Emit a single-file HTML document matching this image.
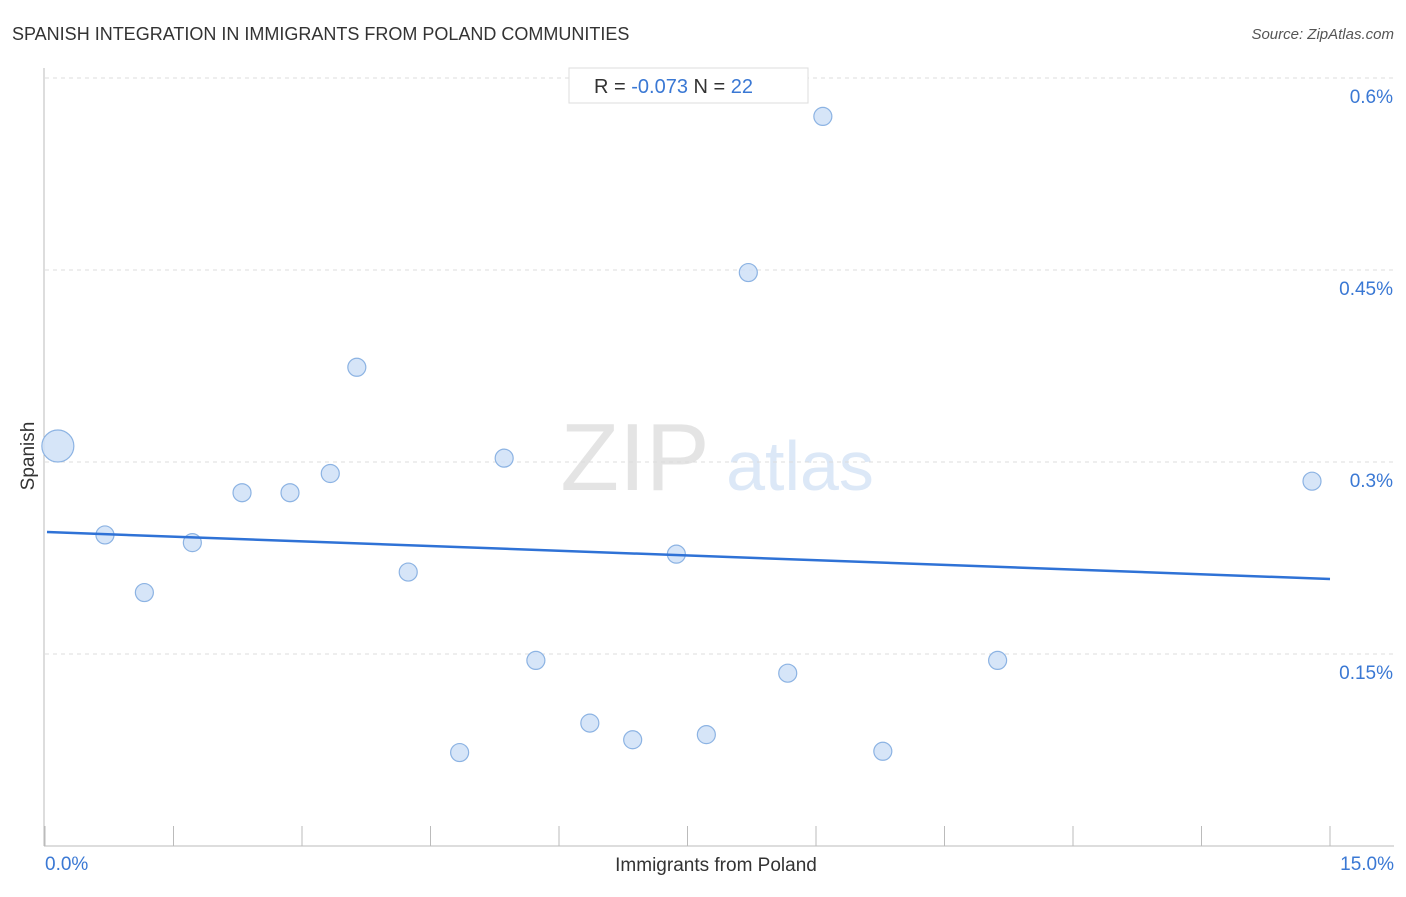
<!DOCTYPE html>
<html><head><meta charset="utf-8"><style>
body{margin:0;background:#fff;font-family:"Liberation Sans",sans-serif;}
svg text{font-family:"Liberation Sans",sans-serif;}
</style></head><body>
<svg width="1406" height="892">
<text x="12" y="40" font-size="18" fill="#333">SPANISH INTEGRATION IN IMMIGRANTS FROM POLAND COMMUNITIES</text>
<text x="1394" y="39" font-size="15" fill="#555" font-style="italic" text-anchor="end">Source: ZipAtlas.com</text>
<text x="635" y="490" font-size="96" fill="#e4e4e4" font-family="Liberation Serif" text-anchor="middle">ZIP</text>
<text x="800" y="490" font-size="70" fill="#dce8f7" text-anchor="middle">atlas</text>
<g id="grid"></g><g id="axes"></g><g id="marks"></g>
<g>
<rect x="569" y="68" width="239" height="35" fill="#fff" stroke="#ddd"/>
<text x="594" y="93" font-size="20" fill="#333">R = <tspan fill="#3a78d4">-0.073</tspan>   N = <tspan fill="#3a78d4">22</tspan></text>
</g>
<text x="716" y="871" font-size="19" fill="#333" text-anchor="middle">Immigrants from Poland</text>
<text x="34" y="456" font-size="19" fill="#333" text-anchor="middle" transform="rotate(-90 34 456)">Spanish</text>
</svg>
<script>
const xs=[0.15,0.70,1.16,1.72,2.30,2.86,3.33,3.64,4.24,4.84,5.36,5.73,6.36,6.86,7.37,7.72,8.21,8.67,9.08,9.78,11.12,14.79];
const ys=[0.3125,0.243,0.198,0.237,0.276,0.276,0.291,0.374,0.214,0.073,0.303,0.145,0.096,0.083,0.228,0.087,0.448,0.135,0.570,0.074,0.145,0.285];
const sizes=[16,9,9,9,9,9,9,9,9,9,9,9,9,9,9,9,9,9,9,9,9,9];
const yTicks=[0.15,0.3,0.45,0.6];
const yTickLabels=["0.15%","0.3%","0.45%","0.6%"];
const xTickLabels=["0.0%","15.0%"];
const trend=[0.2453,0.2086];
const X=v=>45+v/15*1285, Y=v=>846-v/0.15*192;
const NS="http://www.w3.org/2000/svg";
function mk(p,t,a){const e=document.createElementNS(NS,t);for(const k in a)e.setAttribute(k,a[k]);document.getElementById(p).appendChild(e);return e;}
yTicks.forEach((v,i)=>{
 const l=mk('grid','line',{x1:45,x2:1394,y1:Y(v),y2:Y(v),stroke:'#ddd','stroke-dasharray':'4,4'});
 
 
 const t=mk('grid','text',{x:1393,y:Y(v)+25,'font-size':19,fill:'#3a78d4','text-anchor':'end'});
 t.textContent=yTickLabels[i];
 
 
});
const ax=mk('axes','line',{x1:44,x2:44,y1:68,y2:846,stroke:'#bbb'});


const bx=mk('axes','line',{x1:44,x2:1394,y1:846,y2:846,stroke:'#bbb'});


for(let i=0;i<=10;i++){const v=i*1.5;const t=mk('axes','line',{x1:X(v),x2:X(v),y1:826,y2:846,stroke:'#bbb'});
 
 }
[[0,'start',45],[15,'end',1394]].forEach((d,i)=>{const t=mk('axes','text',{x:d[2],y:870,'font-size':19,fill:'#3a78d4','text-anchor':d[1]});t.textContent=xTickLabels[i];
 
 });
xs.forEach((x,i)=>{const c=mk('marks','circle',{cx:X(x),cy:Y(ys[i]),r:sizes[i],fill:'#cfe0f7','fill-opacity':0.85,stroke:'#8cb3e3','stroke-width':1.2});
 
 });
const tl=mk('marks','line',{x1:X(0)+2,y1:Y(trend[0]),x2:X(15),y2:Y(trend[1]),stroke:'#2f72d6','stroke-width':2.5});


</script>
</body></html>
